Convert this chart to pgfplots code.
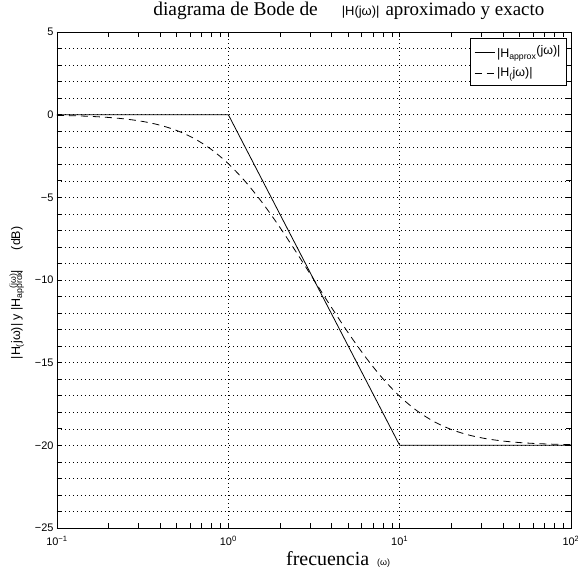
\documentclass[border=0pt]{standalone}
\usepackage{fontspec}
\setmainfont{Liberation Sans}
\newfontfamily\serif{Liberation Serif}
\usepackage{pgfplots}
\pgfplotsset{compat=1.18}
\begin{document}
\begin{tikzpicture}
\path[use as bounding box] (0bp,0bp) rectangle (578bp,573bp);
\begin{axis}[
  at={(57bp,45bp)}, anchor=south west,
  width=514bp, height=496bp, scale only axis,
  xmode=log, xmin=0.1, xmax=100, ymin=-25, ymax=5,
  xtick={0.1,1,10,100},
  xticklabels={10\textsuperscript{−1},10\textsuperscript{0},10\textsuperscript{1},10\textsuperscript{2}},
  minor xtick={0.2,0.3,0.4,0.5,0.6,0.7,0.8,0.9,2,3,4,5,6,7,8,9,20,30,40,50,60,70,80,90},
  ytick={-25,-20,-15,-10,-5,0,5},
  yticklabels={−25,−20,−15,−10,−5,0,5},
  minor ytick={-24,-23,-22,-21,-19,-18,-17,-16,-14,-13,-12,-11,-9,-8,-7,-6,-4,-3,-2,-1,1,2,3,4},
  xmajorgrids, ymajorgrids, yminorgrids,
  major grid style={black, line width=0.5bp, dash pattern=on 0.7bp off 3.3bp},
  minor grid style={black, line width=0.5bp, dash pattern=on 0.7bp off 3.3bp},
  tick align=inside, tick pos=both,
  major tick length=5bp, minor tick length=5bp,
  axis line style={line width=0.9bp},
  every tick/.style={black, line width=0.6bp},
  tick label style={font=\fontsize{11}{13}\selectfont},
  xticklabel style={yshift=-5bp},
  title={{\serif\fontsize{19.5}{22}\selectfont diagrama de Bode de}\hspace{24bp}{\fontsize{13}{15}\selectfont |H(jω)|}\hspace{6bp}{\serif\fontsize{19}{22}\selectfont aproximado y exacto}},
  title style={at={(axis description cs:0.187,1.022)}, anchor=base west, inner sep=0pt},
  xlabel={{\serif\fontsize{20}{22}\selectfont frecuencia}\hspace{8bp}{\fontsize{9}{11}\selectfont (ω)}},
  every axis x label/.style={at={(axis description cs:0.547,-0.0746)}, anchor=base, inner sep=0pt},
  ylabel={|H\textsubscript{(}jω)| y |H\rlap{\textsubscript{approx}}\hspace{10bp}\textsuperscript{(jω)}|\hspace{20bp}(dB)},
  every axis y label/.style={at={(axis description cs:-0.078,0.474)}, rotate=90, anchor=center, font=\fontsize{12.5}{14}\selectfont},
  legend style={at={(axis description cs:0.992,0.988)}, anchor=north east,
    font=\fontsize{12.5}{15}\selectfont, draw=black, line width=0.9bp,
    inner xsep=4bp, inner ysep=5bp, row sep=5bp, cells={anchor=west}},
  legend image code/.code={\draw[#1] (0bp,0bp) -- (20bp,0bp);},
]
\addplot[black, line width=0.8bp] coordinates {(0.1,0) (1,0) (10,-20) (100,-20)};
\addlegendentry{|H\textsubscript{approx}\raisebox{3bp}{(jω)|}}
\addplot[black, line width=0.8bp, dash pattern=on 7bp off 5bp, smooth] coordinates {
(0.1,-0.0428) (0.12589,-0.0676) (0.15849,-0.1066) (0.19953,-0.1678) (0.25119,-0.2633)
(0.31623,-0.4096) (0.39811,-0.6321) (0.50119,-0.9623) (0.63096,-1.4382) (0.79433,-2.0971)
(1,-2.9671) (1.2589,-4.0562) (1.5849,-5.3478) (1.9953,-6.8036) (2.5119,-8.3730)
(3.1623,-10.0) (3.9811,-11.627) (5.0119,-13.1964) (6.3096,-14.6522) (7.9433,-15.9438)
(10,-17.0329) (12.589,-17.9029) (15.849,-18.5618) (19.953,-19.0377) (25.119,-19.3679)
(31.623,-19.5904) (39.811,-19.7367) (50.119,-19.8322) (63.096,-19.8934) (79.433,-19.9324)
(100,-19.9572)};
\addlegendentry{|H\textsubscript{(}jω)|}
\end{axis}
\end{tikzpicture}
\end{document}
